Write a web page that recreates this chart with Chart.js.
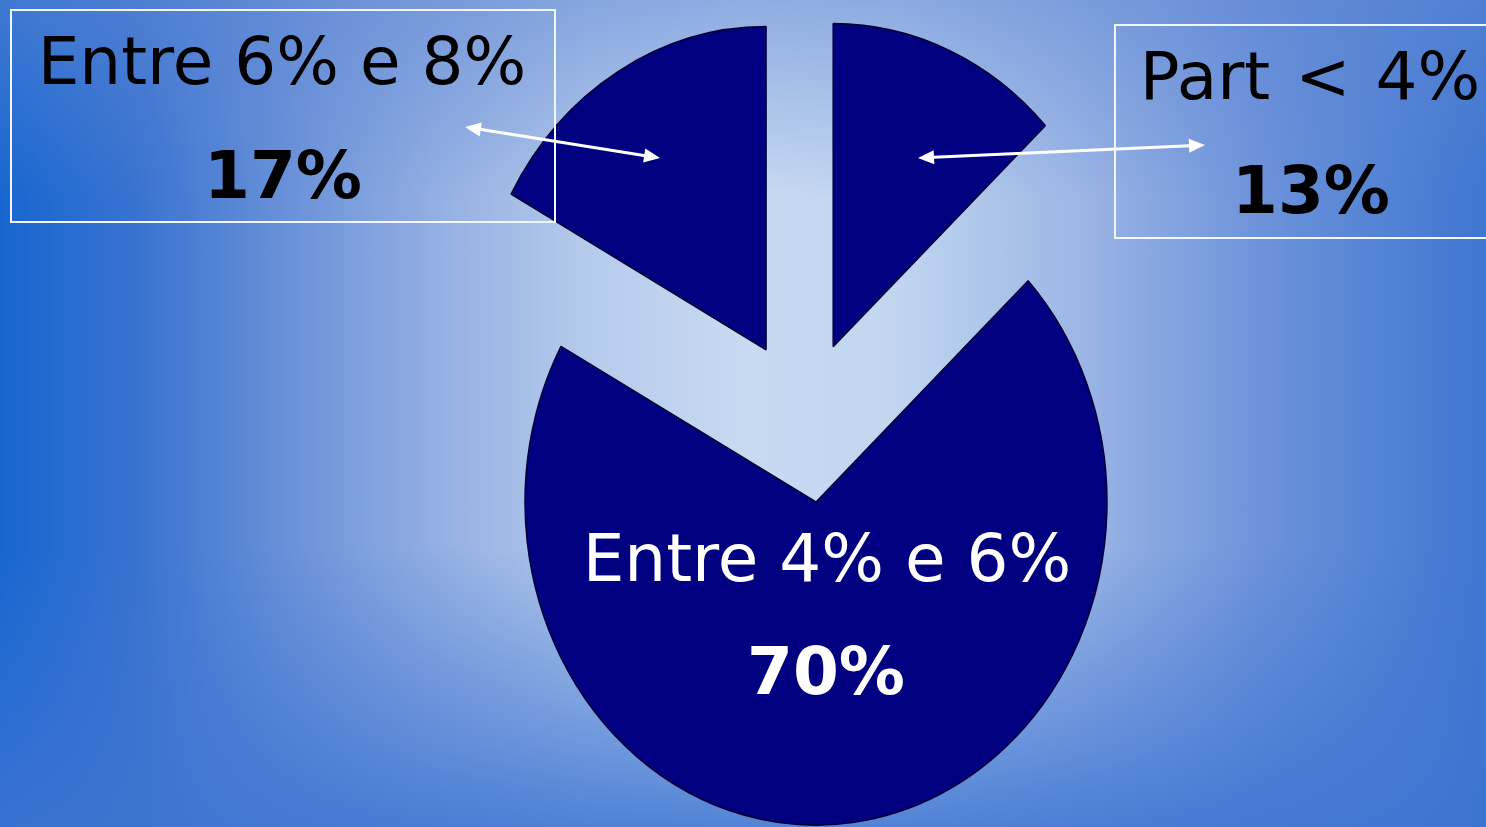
<!DOCTYPE html>
<html>
<head>
<meta charset="utf-8">
<script src="https://cdn.jsdelivr.net/npm/chart.js@4.4.1/dist/chart.umd.min.js"></script>
<style>
  html, body { margin: 0; padding: 0; }
  #stage {
    position: relative;
    width: 1486px;
    height: 827px;
    overflow: hidden;
    background:
      linear-gradient(to bottom, rgba(95,135,212,0.55) 0%, rgba(95,135,212,0) 24%, rgba(70,120,212,0) 66%, rgba(62,116,210,0.85) 100%),
      linear-gradient(to right, #1766d0 0%, #3872d0 9%, #6890d8 19%, #92aee2 29%, #b6ccec 40%, #c8daf2 50%, #c2d6f0 60%, #9eb8e6 72%, #6c92da 85%, #3f76d0 100%);
  }
  canvas { position: absolute; left: 0; top: 0; }
  .box {
    position: absolute;
    border: 2px solid #f2f6ff;
    box-sizing: border-box;
  }
  .lbl {
    position: absolute;
    font-family: "DejaVu Sans", Verdana, sans-serif;
    font-size: 66px;
    line-height: 66px;
    white-space: pre;
    transform: translateX(-50%);
  }
  .b { font-weight: bold; }
</style>
</head>
<body>
<div id="stage">
  <canvas id="pie" width="1486" height="827"></canvas>
  <div class="box" style="left:10px;top:9px;width:546px;height:214px"></div>
  <div class="box" style="left:1114px;top:24px;width:400px;height:215px"></div>
  <div class="lbl" style="left:282px;top:29px;color:#000">Entre 6% e 8%</div>
  <div class="lbl b" style="left:283px;top:143px;color:#000">17%</div>
  <div class="lbl" style="left:1310px;top:44px;color:#000;word-spacing:4px">Part &lt; 4%</div>
  <div class="lbl b" style="left:1311px;top:158px;color:#000">13%</div>
  <div class="lbl" style="left:827px;top:526px;color:#fff">Entre 4% e 6%</div>
  <div class="lbl b" style="left:826px;top:639px;color:#fff">70%</div>
</div>
<script>
// slice data, clockwise from 12 o'clock
const labels = ["Part < 4%", "Entre 4% e 6%", "Entre 6% e 8%"]
const shares = [13, 70, 17]

// how far each slice is pulled out of the pie (px) and in which direction (deg)
const explodeDist = [141, 0, 146]
const explodeDir = [-83, 0, -110]

// the original pie is a little taller than wide
const stretchY = 1.11

// double headed callout arrows
const arrows = [
  [465, 127, 660, 158],
  [918, 158, 1205, 145]
]

const explode = {
  id: "explode",
  afterDatasetsUpdate(chart) {
    chart.getDatasetMeta(0).data.forEach((arc, i) => {
      const a = explodeDir[i] * Math.PI / 180
      arc.x += Math.cos(a) * explodeDist[i]
      arc.y += Math.sin(a) * explodeDist[i]
    })
  }
}

const stretch = {
  id: "stretch",
  beforeDatasetsDraw(chart) {
    const { ctx, chartArea } = chart
    const cy = (chartArea.top + chartArea.bottom) / 2
    ctx.save()
    ctx.translate(0, cy)
    ctx.scale(1, stretchY)
    ctx.translate(0, -cy)
  },
  afterDatasetsDraw(chart) {
    chart.ctx.restore()
  }
}

function head(ctx, x, y, ang) {
  const len = 16, w = 7
  ctx.beginPath()
  ctx.moveTo(x, y)
  ctx.lineTo(x - len * Math.cos(ang) + w * Math.sin(ang), y - len * Math.sin(ang) - w * Math.cos(ang))
  ctx.lineTo(x - len * Math.cos(ang) - w * Math.sin(ang), y - len * Math.sin(ang) + w * Math.cos(ang))
  ctx.closePath()
  ctx.fill()
}

const callouts = {
  id: "callouts",
  afterDraw(chart) {
    const ctx = chart.ctx
    ctx.save()
    ctx.strokeStyle = "#ffffff"
    ctx.fillStyle = "#ffffff"
    ctx.lineWidth = 3
    arrows.forEach(([x1, y1, x2, y2]) => {
      const ang = Math.atan2(y2 - y1, x2 - x1)
      ctx.beginPath()
      ctx.moveTo(x1 + 10 * Math.cos(ang), y1 + 10 * Math.sin(ang))
      ctx.lineTo(x2 - 10 * Math.cos(ang), y2 - 10 * Math.sin(ang))
      ctx.stroke()
      head(ctx, x2, y2, ang)
      head(ctx, x1, y1, ang + Math.PI)
    })
    ctx.restore()
  }
}

new Chart(document.getElementById("pie").getContext("2d"), {
  type: "pie",
  data: {
    labels: labels,
    datasets: [{
      data: shares,
      backgroundColor: "#000080",
      borderColor: "#000038",
      borderWidth: 1.5,
      hoverOffset: 0
    }]
  },
  options: {
    responsive: false,
    animation: false,
    radius: 291,
    layout: { padding: { left: 146, right: 0, top: 177, bottom: 0 } },
    plugins: {
      legend: { display: false },
      tooltip: { enabled: false }
    }
  },
  plugins: [explode, stretch, callouts]
})
</script>
</body>
</html>
